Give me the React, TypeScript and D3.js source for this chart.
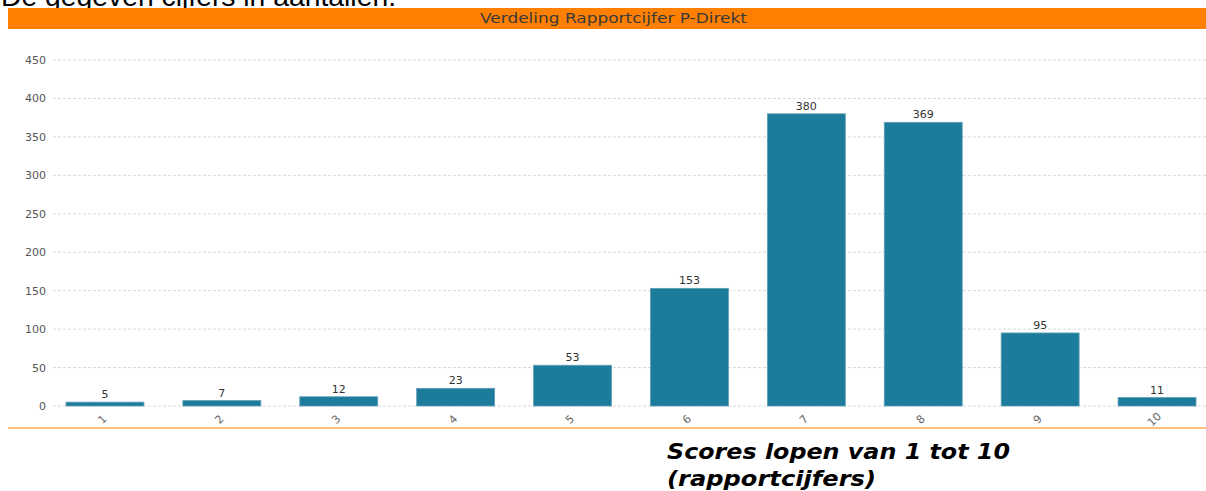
import React from "react";
import * as d3 from "d3";

const categories = ["1", "2", "3", "4", "5", "6", "7", "8", "9", "10"];
const values = [5, 7, 12, 23, 53, 153, 380, 369, 95, 11];
const yTicks = [0, 50, 100, 150, 200, 250, 300, 350, 400, 450];
const title = "Verdeling Rapportcijfer P-Direkt";
const heading = "De gegeven cijfers in aantallen.";
const caption = ["Scores lopen van 1 tot 10", "(rapportcijfers)"];
const captionWidths = [343, 209];

export default function App() {
  const W = 1206, H = 491;
  const x = d3.scaleBand<string>().domain(categories).range([46.5, 1215.5]).paddingInner(1 / 3).paddingOuter(1 / 6);
  const y = d3.scaleLinear().domain([0, 450]).range([406, 60]);
  const font = "Tahoma, 'DejaVu Sans', Verdana, sans-serif";
  return (
    <svg width={W} height={H} style={{ position: "absolute", left: 0, top: 0, background: "#fff" }}>
      <text x={1} y={6} fontFamily="'Liberation Sans', Arial, sans-serif" fontSize={28} fill="#000" textLength={395} lengthAdjust="spacingAndGlyphs">{heading}</text>
      <rect x={8} y={8} width={W - 8} height={21} fill="#FF8000" />
      <text x={613.5} y={23} textAnchor="middle" fontFamily={font} fontSize={14} fill="#3a3a3a" textLength={267} lengthAdjust="spacingAndGlyphs">{title}</text>
      {yTicks.map(t => (
        <g key={t}>
          <line x1={53} x2={W} y1={y(t)} y2={y(t)} stroke="#dadada" strokeDasharray="3,2" />
          <text x={46} y={y(t) + 4} textAnchor="end" fontFamily={font} fontSize={11} fill="#555">{t}</text>
        </g>
      ))}
      {categories.map((c, i) => (
        <g key={c}>
          <rect x={x(c)!} y={y(values[i])} width={x.bandwidth()} height={y(0) - y(values[i])} fill="#1D7B9B" stroke="#5E9FB6" strokeWidth={0.8} />
          <text x={x(c)! + x.bandwidth() / 2} y={y(values[i]) - 4} textAnchor="middle" fontFamily={font} fontSize={11} fill="#333">{values[i]}</text>
          <text transform={`translate(${x(c)! + x.bandwidth() / 2},${422}) rotate(-45)`} textAnchor="middle" fontFamily={font} fontSize={11} fill="#666">{c}</text>
        </g>
      ))}
      <line x1={8} x2={W} y1={428} y2={428} stroke="#FF8000" strokeWidth={1.2} />
      {caption.map((t, i) => (
        <text key={i} x={667} y={459 + i * 27} fontFamily="'DejaVu Sans', Verdana, sans-serif" fontWeight="bold" fontStyle="italic" fontSize={22} fill="#000" textLength={captionWidths[i]} lengthAdjust="spacingAndGlyphs">{t}</text>
      ))}
    </svg>
  );
}
